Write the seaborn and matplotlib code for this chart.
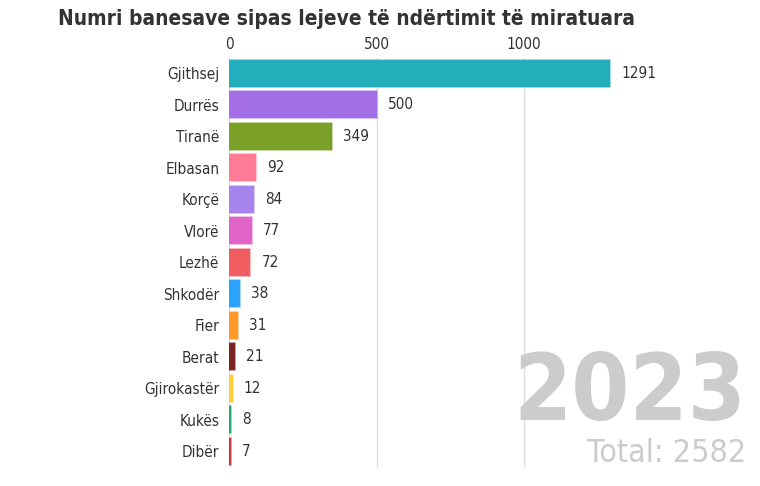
import matplotlib
matplotlib.use("Agg")
import matplotlib.pyplot as plt
import seaborn as sns
import pandas as pd
from matplotlib.colors import to_rgba

# data
regions = ["Gjithsej", "Durrës", "Tiranë", "Elbasan", "Korçë", "Vlorë", "Lezhë",
           "Shkodër", "Fier", "Berat", "Gjirokastër", "Kukës", "Dibër"]
values = [1291, 500, 349, 92, 84, 77, 72, 38, 31, 21, 12, 8, 7]
colors = ["#24adbb", "#a36ee6", "#7aa028", "#ff7b96", "#a783ee", "#e164c9", "#ef5d63",
          "#2ba2fb", "#ff9a2a", "#7d2326", "#ffd033", "#1fa56e", "#c8363d"]
year = "2023"
total = 2582
x_ticks = [0, 500, 1000]

sns.set_theme(style="white")
plt.rcParams["font.family"] = ["DejaVu Sans"]
plt.rcParams["font.stretch"] = "condensed"

df = pd.DataFrame({"region": regions, "value": values})

fig = plt.figure(figsize=(7.6, 4.86), dpi=100)
ax = fig.add_axes([0.3013, 0.039, 0.679, 0.8426])

sns.barplot(data=df, x="value", y="region", hue="region", palette=dict(zip(regions, colors)),
            order=regions, legend=False, width=0.86, saturation=1, ax=ax, zorder=3)

for p, c in zip(ax.patches, colors):
    p.set_edgecolor(to_rgba(c, 0.5))
    p.set_linewidth(1.2)

for i, v in enumerate(values):
    ax.text(v + 38, i, str(v), va="center", ha="left", fontsize=11, color="#333333",
            fontstretch="condensed")

ax.set_xlim(0, 1749)
ax.set_ylim(12.5, -0.5)
ax.set_xticks(x_ticks)
ax.xaxis.tick_top()
ax.tick_params(axis="x", length=0, pad=4, labelsize=11, labelcolor="#333333")
ax.tick_params(axis="y", length=0, pad=7, labelsize=11, labelcolor="#333333")
ax.grid(axis="x", color="#dddddd", linewidth=1, zorder=0)
ax.set_xlabel("")
ax.set_ylabel("")
for s in ax.spines.values():
    s.set_visible(False)

fig.text(0.076, 0.96, "Numri banesave sipas lejeve të ndërtimit të miratuara",
         fontsize=15, fontweight="bold", color="#333333", va="center", ha="left",
         fontstretch="condensed")
fig.text(0.982, 0.136, year, fontsize=67, fontweight="bold", color="#cccccc",
         ha="right", va="baseline", fontstretch="condensed")
fig.text(0.982, 0.05, f"Total: {total}", fontsize=23, color="#cccccc",
         ha="right", va="baseline", fontstretch="condensed")

fig.savefig("out.png", dpi=100)
